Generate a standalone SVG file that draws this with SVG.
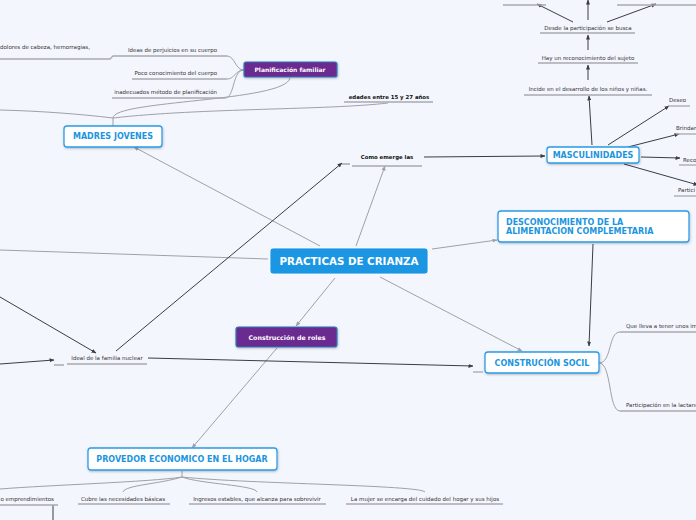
<svg xmlns="http://www.w3.org/2000/svg" width="696" height="520" viewBox="0 0 696 520">
<style>
text{font-family:"DejaVu Sans","Liberation Sans",sans-serif;}
.s{font-size:5.5px;fill:#333;}
.sb{font-size:5.4px;fill:#111;font-weight:bold;}
.nb{font-size:8px;fill:#1b95e0;font-weight:bold;}
.pw{font-weight:bold;fill:#fff;}
.ul{stroke:#a9a9b0;stroke-width:1.3;fill:none;}
.cg{stroke:#a0a0a8;stroke-width:1;fill:none;}
.cd{stroke:#3c3c44;stroke-width:1;fill:none;}
.box{fill:#fff;stroke:#2a9be8;stroke-width:1.3;}
.pbox{fill:#6a2b8f;stroke:#2f77b8;stroke-width:1.2;}
</style>
<defs>
<marker id="ag" viewBox="0 0 10 10" refX="9" refY="5" markerWidth="5" markerHeight="5" orient="auto"><path d="M0,1 L10,5 L0,9 z" fill="#a0a0a8"/></marker>
<marker id="ad" viewBox="0 0 10 10" refX="9" refY="5" markerWidth="5" markerHeight="5" orient="auto"><path d="M0,1 L10,5 L0,9 z" fill="#3c3c44"/></marker>
<filter id="sh" x="-10%" y="-20%" width="120%" height="150%"><feDropShadow dx="0.5" dy="1" stdDeviation="0.8" flood-color="#000" flood-opacity="0.25"/></filter>
</defs>
<rect width="696" height="520" fill="#f3f6fd"/>
<g id="connectors">
<path class="cg" d="M320,246 L134,147" marker-end="url(#ag)"/>
<path class="cg" d="M356,246 L385,166" marker-end="url(#ag)"/>
<path class="cg" d="M432,249 L497,240" marker-end="url(#ag)"/>
<path class="cg" d="M380,277 L522,351" marker-end="url(#ag)"/>
<path class="cg" d="M335,278 L296,326" marker-end="url(#ag)"/>
<path class="cg" d="M277,348 L192,448" marker-end="url(#ag)"/>
<path class="cg" d="M268,259 L0,250"/>
<path class="cd" d="M116,351 L342,163" marker-end="url(#ad)"/>
<path class="cd" d="M0,297 L96,353" marker-end="url(#ad)"/>
<path class="cd" d="M0,364 L54,360" marker-end="url(#ad)"/>
<path class="cd" d="M148,358 L473,366" marker-end="url(#ad)"/>
<path class="cd" d="M424,157 L545,156" marker-end="url(#ad)"/>
<path class="cd" d="M593,244 L589,346" marker-end="url(#ad)"/>
<path class="cd" d="M592,145 L589,96" marker-end="url(#ad)"/>
<path class="cd" d="M608,145 L669,106" marker-end="url(#ad)"/>
<path class="cd" d="M628,147 L679,134" marker-end="url(#ad)"/>
<path class="cd" d="M641,157 L680,158" marker-end="url(#ad)"/>
<path class="cd" d="M624,164 L698,185" marker-end="url(#ad)"/>
<path class="cd" d="M588,80 L588,65" marker-end="url(#ad)"/>
<path class="cd" d="M588,50 L588,35" marker-end="url(#ad)"/>
<path class="cd" d="M573,22 L537,4" marker-end="url(#ad)"/>
<path class="cd" d="M588,20 L588,0" marker-end="url(#ad)"/>
<path class="cd" d="M607,22 L656,4" marker-end="url(#ad)"/>
<path class="cd" d="M53,505 L53,520"/>
<path class="cg" d="M113,126 L113,118 M113,118 C80,114 40,111 0,110 M113,118 C200,108 330,110 388,103 M113,118 C113,100 285,102 290,78"/>
<path class="cg" d="M244,70 C235,70 235,56 227,56 M244,70 C235,70 235,79 227,79 M244,70 C232,70 235,98 225,98"/>
<path class="cg" d="M599,363 C612,363 608,332 620,332 M599,363 C612,363 608,411 620,411"/>
<path class="cg" d="M182,471 L182,477 M182,477 C150,482 50,485 0,489 M182,477 C160,484 125,485 123,492 M182,477 C200,484 255,485 257,492 M182,477 C250,484 420,485 425,492"/>
</g>
<g id="underlines">
<path class="ul" d="M0,59 L110,59 L113,56 L227,56"/>
<path class="ul" d="M132,79 L227,79"/>
<path class="ul" d="M112,98 L225,98"/>
<path class="ul" d="M344,102 L433,102"/>
<path class="ul" d="M342,164 L350,164 M352,166 L422,166"/>
<path class="ul" d="M54,365 L64,365 M67,364 L147,364"/>
<path class="ul" d="M473,372 L483,372"/>
<path class="ul" d="M524,95 L652,95"/>
<path class="ul" d="M538,63 L638,63"/>
<path class="ul" d="M540,33 L635,33"/>
<path class="ul" d="M503,5 L546,5"/>
<path class="ul" d="M617,5 L696,5"/>
<path class="ul" d="M668,106 L690,106"/>
<path class="ul" d="M676,134 L696,134"/>
<path class="ul" d="M679,165 L696,165"/>
<path class="ul" d="M674,196 L696,196"/>
<path class="ul" d="M620,332 L696,332"/>
<path class="ul" d="M620,411 L696,411"/>
<path class="ul" d="M0,505 L58,505"/>
<path class="ul" d="M78,504 L170,504"/>
<path class="ul" d="M189,504 L326,504"/>
<path class="ul" d="M346,504 L503,504"/>
</g>
<g id="labels">
<text class="s" x="0" y="49">dolores de cabeza, hemorragias,</text>
<text class="s" x="217" y="52" text-anchor="end">Ideas de perjuicios en su cuerpo</text>
<text class="s" x="217" y="75" text-anchor="end">Poco conocimiento del cuerpo</text>
<text class="s" x="217" y="94" text-anchor="end">inadecuados método de planificación</text>
<text class="sb" x="389" y="99" text-anchor="middle">edades entre 15 y 27 años</text>
<text class="sb" x="387" y="159" text-anchor="middle">Como emerge las</text>
<text class="s" x="107" y="360" text-anchor="middle">Ideal de la familia nuclear</text>
<text class="s" x="588" y="91" text-anchor="middle">Incide en el desarrollo de los niños y niñas.</text>
<text class="s" x="588" y="60" text-anchor="middle">Hay un reconocimiento del sujeto</text>
<text class="s" x="588" y="30" text-anchor="middle">Desde la participación se busca</text>
<text class="s" x="669" y="102">Deseo</text>
<text class="s" x="676" y="130">Brindar</text>
<text class="s" x="683" y="162">Reco</text>
<text class="s" x="678" y="192">Partici</text>
<text class="s" x="626" y="328">Que lleva a tener unos im</text>
<text class="s" x="626" y="407">Participación en la lactanc</text>
<text class="s" x="54" y="501" text-anchor="end">o emprendimientos</text>
<text class="s" x="123" y="501" text-anchor="middle">Cubre las necesidades básicas</text>
<text class="s" x="257" y="501" text-anchor="middle">Ingresos estables, que alcanza para sobrevivir</text>
<text class="s" x="425" y="501" text-anchor="middle">La mujer se encarga del cuidado del hogar y sus hijos</text>
</g>
<g id="practicas">
<rect x="270" y="248" width="158" height="26" rx="3" fill="#1a96e3" stroke="#ffffff" stroke-width="0.8"/>
<text class="pw" x="349" y="265" text-anchor="middle" font-size="10.3">PRACTICAS DE CRIANZA</text>
</g>
<g id="madres">
<rect class="box" x="64" y="126" width="98" height="21" rx="3" filter="url(#sh)"/>
<text class="nb" x="113" y="139" text-anchor="middle">MADRES JOVENES</text>
</g>
<g id="planificacion">
<rect class="pbox" x="244" y="62" width="93" height="15" rx="2" filter="url(#sh)"/>
<text class="pw" x="290" y="72.3" text-anchor="middle" font-size="6">Planificación familiar</text>
</g>
<g id="masculinidades">
<rect class="box" x="547" y="147" width="92" height="16" rx="2.5" filter="url(#sh)"/>
<text class="nb" x="593" y="158" text-anchor="middle">MASCULINIDADES</text>
</g>
<g id="desconocimiento">
<rect class="box" x="498" y="211" width="191" height="31" rx="3" filter="url(#sh)"/>
<text class="nb" x="506" y="225">DESCONOCIMIENTO DE LA</text>
<text class="nb" x="506" y="234">ALIMENTACION COMPLEMETARIA</text>
</g>
<g id="construccion-social">
<rect class="box" x="485" y="352" width="114" height="21" rx="3" filter="url(#sh)"/>
<text class="nb" x="542" y="366" text-anchor="middle">CONSTRUCIÓN SOCIL</text>
</g>
<g id="roles">
<rect class="pbox" x="236" y="327" width="101" height="20" rx="2.5" filter="url(#sh)"/>
<text class="pw" x="287" y="339.5" text-anchor="middle" font-size="6.3">Construcción de roles</text>
</g>
<g id="provedor">
<rect class="box" x="88" y="448" width="189" height="22" rx="3" filter="url(#sh)"/>
<text class="nb" x="182" y="462" text-anchor="middle">PROVEDOR ECONOMICO EN EL HOGAR</text>
</g>
</svg>
